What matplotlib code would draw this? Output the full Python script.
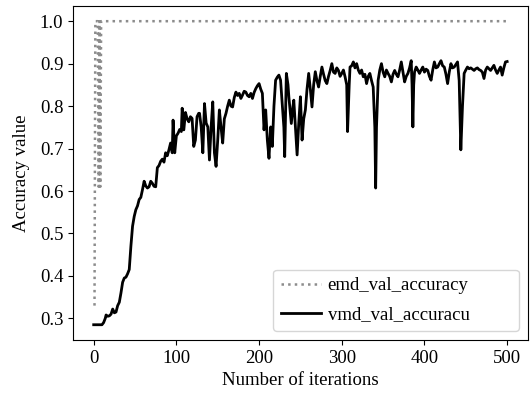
import matplotlib
matplotlib.use("Agg")
import matplotlib.pyplot as plt

plt.rcParams["font.family"] = ["Liberation Serif", "DejaVu Serif"]
plt.rcParams["font.size"] = 13.5

# emd validation accuracy (jumps to 1.0 almost immediately)
emd_head = [0.33, 1.0, 1.0, 1.0, 1.0, 0.61, 1.0, 0.61, 1.0]
emd_acc = emd_head + [1.0] * (500 - len(emd_head))
emd_iters = list(range(1, len(emd_acc) + 1))

# vmd validation accuracy
vmd_iters = [
    0, 5, 10, 12, 14, 15, 17, 19, 21, 23, 25, 27, 29, 31, 33, 35, 37, 39, 41, 43,
    45, 47, 49, 51, 53, 55, 57, 59, 61, 63, 65, 67, 69, 71, 73, 75, 77, 79, 81, 83,
    85, 87, 89, 91, 93, 95, 96, 98, 100, 102, 104, 106, 107, 109, 111, 113, 115, 117, 119, 121,
    123, 125, 127, 128, 130, 132, 134, 136, 138, 140, 142, 144, 146, 148, 150, 152, 154, 156, 158, 160,
    162, 164, 166, 168, 170, 172, 174, 176, 178, 180, 182, 184, 186, 188, 190, 192, 194, 196, 198, 200,
    202, 204, 206, 208, 210, 212, 214, 216, 218, 220, 222, 224, 226, 228, 230, 231, 233, 235, 236, 238,
    239, 241, 242, 244, 246, 248, 250, 252, 254, 256, 258, 260, 262, 264, 266, 268, 270, 272, 274, 276,
    278, 280, 282, 284, 286, 288, 290, 292, 294, 296, 298, 300, 302, 304, 306, 307, 309, 310, 312, 314,
    316, 318, 320, 322, 324, 326, 328, 330, 332, 334, 336, 338, 340, 341, 342, 344, 346, 348, 350, 352,
    354, 356, 358, 360, 362, 364, 366, 368, 370, 372, 374, 376, 378, 380, 382, 384, 385, 386, 387, 388,
    390, 392, 394, 396, 398, 400, 402, 404, 406, 408, 410, 412, 414, 416, 418, 420, 422, 424, 426, 428,
    430, 432, 434, 436, 438, 440, 442, 444, 446, 448, 450, 452, 454, 456, 458, 460, 462, 464, 466, 468,
    470, 472, 474, 476, 478, 480, 482, 484, 486, 488, 490, 492, 494, 496, 498, 500,
]
vmd_acc = [
    0.285, 0.285, 0.285, 0.29, 0.30, 0.308, 0.305, 0.306, 0.31, 0.322, 0.313, 0.315, 0.33, 0.338, 0.36, 0.385, 0.395, 0.397, 0.405, 0.415,
    0.47, 0.517, 0.54, 0.556, 0.565, 0.58, 0.585, 0.603, 0.623, 0.612, 0.607, 0.61, 0.623, 0.618, 0.611, 0.61, 0.655, 0.66, 0.67, 0.675,
    0.668, 0.69, 0.683, 0.697, 0.713, 0.69, 0.767, 0.69, 0.73, 0.736, 0.745, 0.74, 0.795, 0.744, 0.785, 0.77, 0.763, 0.775, 0.771, 0.705,
    0.72, 0.775, 0.783, 0.783, 0.751, 0.69, 0.806, 0.76, 0.751, 0.673, 0.75, 0.81, 0.69, 0.658, 0.72, 0.791, 0.75, 0.713, 0.77, 0.783,
    0.80, 0.814, 0.80, 0.798, 0.82, 0.833, 0.825, 0.83, 0.818, 0.826, 0.835, 0.833, 0.825, 0.822, 0.83, 0.818, 0.832, 0.841, 0.848, 0.853,
    0.84, 0.83, 0.744, 0.791, 0.72, 0.677, 0.751, 0.705, 0.80, 0.861, 0.868, 0.873, 0.861, 0.806, 0.75, 0.681, 0.877, 0.85, 0.822, 0.78,
    0.759, 0.80, 0.814, 0.75, 0.685, 0.76, 0.822, 0.72, 0.77, 0.791, 0.84, 0.877, 0.84, 0.798, 0.85, 0.881, 0.86, 0.845, 0.87, 0.892,
    0.875, 0.86, 0.853, 0.87, 0.884, 0.90, 0.88, 0.877, 0.89, 0.884, 0.87, 0.877, 0.885, 0.869, 0.85, 0.74, 0.85, 0.892, 0.895, 0.904,
    0.89, 0.90, 0.885, 0.877, 0.885, 0.869, 0.875, 0.853, 0.87, 0.877, 0.86, 0.845, 0.75, 0.607, 0.75, 0.861, 0.885, 0.90, 0.88, 0.869,
    0.885, 0.877, 0.87, 0.857, 0.875, 0.884, 0.875, 0.869, 0.885, 0.904, 0.88, 0.857, 0.87, 0.877, 0.89, 0.907, 0.85, 0.751, 0.85, 0.88,
    0.892, 0.885, 0.877, 0.885, 0.892, 0.88, 0.887, 0.884, 0.87, 0.861, 0.885, 0.904, 0.89, 0.892, 0.90, 0.907, 0.895, 0.892, 0.875, 0.853,
    0.88, 0.90, 0.89, 0.892, 0.898, 0.904, 0.86, 0.697, 0.80, 0.877, 0.885, 0.892, 0.888, 0.89, 0.887, 0.884, 0.888, 0.89, 0.886, 0.884,
    0.88, 0.865, 0.885, 0.892, 0.888, 0.884, 0.89, 0.896, 0.885, 0.877, 0.885, 0.892, 0.873, 0.89, 0.904, 0.905,
]

fig = plt.figure(figsize=(5.31, 3.94), dpi=100)
ax = fig.add_axes([0.1375, 0.137, 0.8565, 0.848])

ax.plot(emd_iters, emd_acc, linestyle=":", color="#8c8c8c", lw=1.8, label="emd_val_accuracy")
ax.plot(vmd_iters, vmd_acc, "-", color="k", lw=2.0, label="vmd_val_accuracu")

ax.set_xlim(-25, 525)
ax.set_ylim(0.249, 1.036)
ax.set_xticks([0, 100, 200, 300, 400, 500])
ax.set_yticks([0.3, 0.4, 0.5, 0.6, 0.7, 0.8, 0.9, 1.0])
ax.set_xlabel("Number of iterations", labelpad=4)
ax.set_ylabel("Accuracy value", labelpad=7)
ax.legend(
    loc="lower left",
    bbox_to_anchor=(0.44, 0.027, 0.54, 0.19),
    mode="expand",
    borderaxespad=0,
    handlelength=2.15,
    handletextpad=0.35,
    labelspacing=0.65,
)

fig.savefig("out.png", dpi=100)
